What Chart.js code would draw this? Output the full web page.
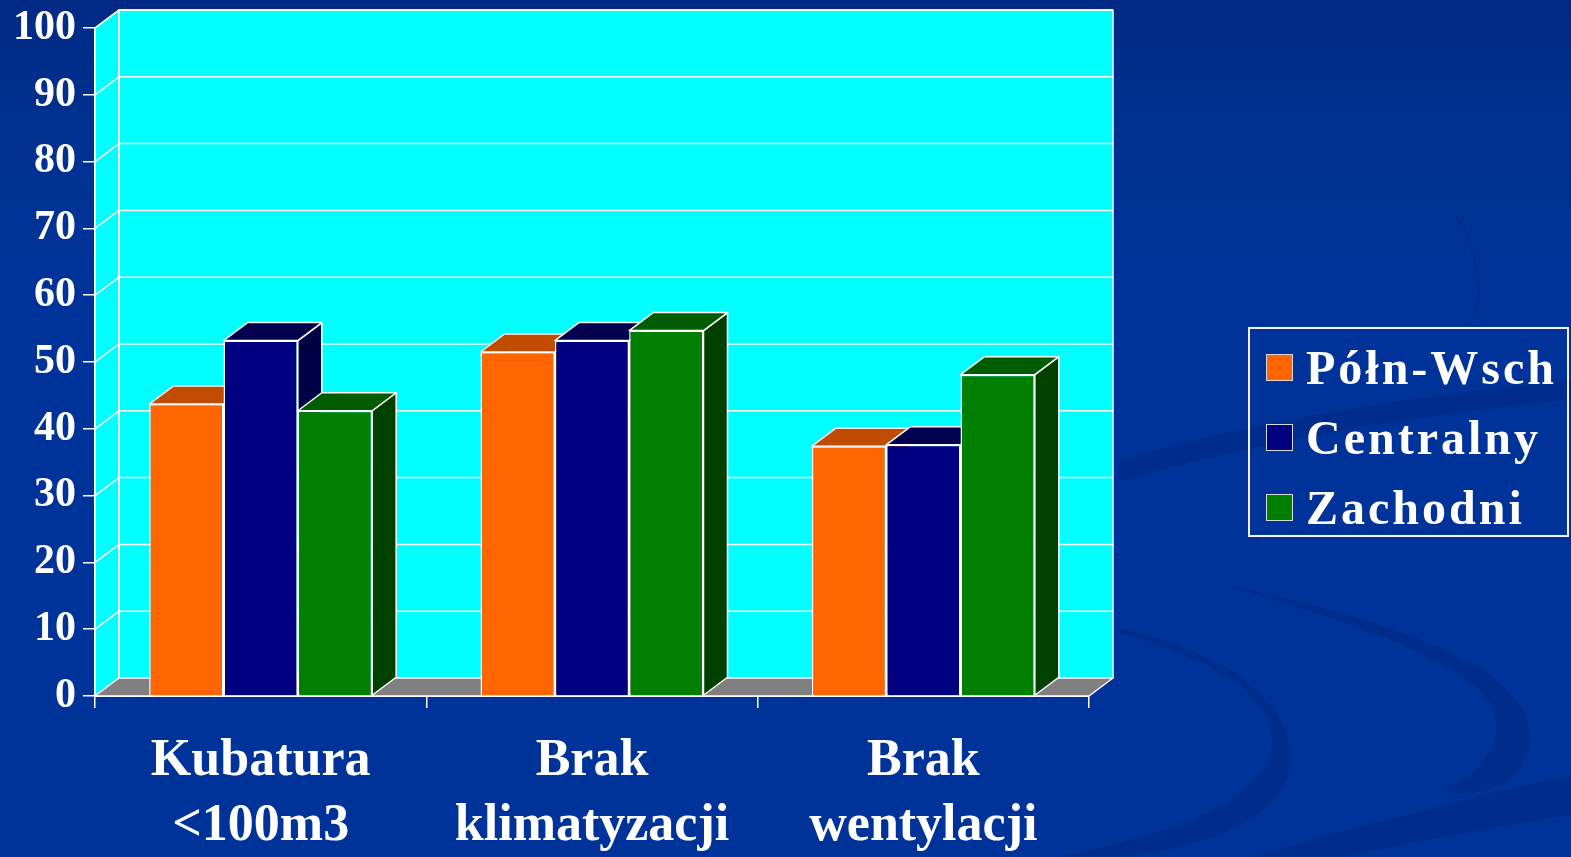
<!DOCTYPE html>
<html lang="pl">
<head>
<meta charset="utf-8">
<title>Warunki pomieszczeń – regiony</title>
<script src="https://cdn.jsdelivr.net/npm/chart.js"></script>
<style>
  html, body { margin: 0; padding: 0; }
  body {
    width: 1571px; height: 857px; overflow: hidden; position: relative;
    background: linear-gradient(to bottom, #002a84 0px, #00318f 120px, #003399 260px, #003399 100%);
    font-family: "Liberation Serif", "Times New Roman", serif;
  }
  #wrap { position: absolute; left: 0; top: 0; width: 1571px; height: 857px; }
  #legenda {
    position: absolute; left: 1248px; top: 327px; width: 321px; height: 210px;
    border: 2px solid #f2f2f2; box-sizing: border-box;
    padding: 3px 0 0 16px;
  }
  .poz { display: flex; align-items: center; height: 70px; color: #fff;
         font-weight: bold; font-size: 48px; letter-spacing: 3px; white-space: nowrap; }
  .kw { width: 25px; height: 25px; border: 1.5px solid #d8d8d8; margin-right: 13px; flex: none; }
</style>
</head>
<body>
<div id="wrap"><canvas id="wykres" width="1571" height="857"></canvas></div>
<div id="legenda"></div>
<script>
// dane
const kategorie = [['Kubatura', '<100m3'], ['Brak', 'klimatyzacji'], ['Brak', 'wentylacji']];
const serie = ['Półn-Wsch', 'Centralny', 'Zachodni'];
const polnWsch = [43.7, 51.5, 37.4];
const centralny = [53.2, 53.2, 37.6];
const zachodni = [42.7, 54.7, 48.1];
const osY = { min: 0, max: 100, krok: 10 };

// kolory: przód, góra, bok
const kolory = [
  ['#ff6600', '#bf4c00', '#993d00'],
  ['#000080', '#00004f', '#000045'],
  ['#008000', '#005c00', '#004000']
];
const DX = 24, DY = 18;   // przesunięcie głębi

function wielokat(ctx, pkt, fill) {
  ctx.beginPath();
  ctx.moveTo(pkt[0][0], pkt[0][1]);
  for (let i = 1; i < pkt.length; i++) ctx.lineTo(pkt[i][0], pkt[i][1]);
  ctx.closePath();
  ctx.fillStyle = fill;
  ctx.fill();
  ctx.stroke();
}

// tło ze smugami
const tlo = {
  id: 'tlo',
  beforeDraw(chart) {
    const ctx = chart.ctx;
    ctx.save();
    ctx.fillStyle = 'rgba(0, 32, 120, 0.35)';
    ctx.beginPath();
    ctx.moveTo(1117, 628);
    ctx.bezierCurveTo(1220, 650, 1300, 700, 1290, 770);
    ctx.bezierCurveTo(1280, 820, 1200, 850, 1120, 857);
    ctx.lineTo(1060, 857);
    ctx.bezierCurveTo(1180, 830, 1270, 800, 1272, 740);
    ctx.bezierCurveTo(1272, 690, 1200, 655, 1117, 632);
    ctx.fill();

    ctx.beginPath();
    ctx.moveTo(1220, 582);
    ctx.bezierCurveTo(1380, 620, 1530, 660, 1530, 740);
    ctx.bezierCurveTo(1525, 790, 1470, 800, 1440, 790);
    ctx.bezierCurveTo(1500, 770, 1510, 720, 1480, 690);
    ctx.bezierCurveTo(1420, 640, 1330, 620, 1220, 582);
    ctx.fill();

    ctx.beginPath();
    ctx.moveTo(1250, 857);
    ctx.bezierCurveTo(1380, 820, 1480, 795, 1571, 775);
    ctx.lineTo(1571, 815);
    ctx.bezierCurveTo(1480, 830, 1400, 845, 1340, 857);
    ctx.fill();

    ctx.beginPath();
    ctx.moveTo(1118, 462);
    ctx.bezierCurveTo(1250, 420, 1420, 395, 1571, 380);
    ctx.lineTo(1571, 400);
    ctx.bezierCurveTo(1420, 415, 1260, 440, 1118, 482);
    ctx.fill();

    ctx.strokeStyle = 'rgba(0, 32, 120, 0.3)';
    ctx.lineWidth = 3;
    ctx.beginPath();
    ctx.moveTo(1455, 215);
    ctx.bezierCurveTo(1480, 250, 1485, 300, 1470, 325);
    ctx.stroke();
    ctx.restore();
  }
};

// ściany, podłoga i bryły słupków
const przestrzen = {
  id: 'przestrzen',
  beforeDatasetsDraw(chart) {
    const ctx = chart.ctx;
    const { left, right, top, bottom } = chart.chartArea;
    const y = chart.scales.y;
    ctx.save();
    ctx.strokeStyle = '#ffffff';
    ctx.lineWidth = 1.5;
    ctx.lineJoin = 'round';

    // tylna ściana i lewa ściana
    ctx.fillStyle = '#00ffff';
    ctx.fillRect(left + DX, top - DY, right - left, bottom - top);
    wielokat(ctx, [[left, top], [left + DX, top - DY], [left + DX, bottom - DY], [left, bottom]], '#00ffff');
    ctx.strokeRect(left + DX, top - DY, right - left, bottom - top);

    // linie siatki
    y.ticks.forEach(t => {
      const py = y.getPixelForValue(t.value);
      ctx.beginPath();
      ctx.moveTo(left, py);
      ctx.lineTo(left + DX, py - DY);
      ctx.lineTo(right + DX, py - DY);
      ctx.stroke();
    });

    // podłoga
    wielokat(ctx, [[left, bottom], [right, bottom], [right + DX, bottom - DY], [left + DX, bottom - DY]], '#808080');

    // boki i wierzchy słupków, od lewej do prawej
    const slupki = [];
    chart.data.datasets.forEach((ds, i) => {
      chart.getDatasetMeta(i).data.forEach(el => {
        const p = el.getProps(['x', 'y', 'base', 'width'], true);
        slupki.push({ p, k: kolory[i] });
      });
    });
    slupki.sort((a, b) => a.p.x - b.p.x);
    slupki.forEach(({ p, k }) => {
      const l = p.x - p.width / 2, r = p.x + p.width / 2;
      wielokat(ctx, [[r, p.y], [r + DX, p.y - DY], [r + DX, p.base - DY], [r, p.base]], k[2]);
      wielokat(ctx, [[l, p.y], [r, p.y], [r + DX, p.y - DY], [l + DX, p.y - DY]], k[1]);
    });
    ctx.restore();
  }
};

const wartosci = [polnWsch, centralny, zachodni];
const czcionka = { family: '"Liberation Serif", "Times New Roman", serif', weight: 'bold' };

const wykres = new Chart(document.getElementById('wykres'), {
  type: 'bar',
  data: {
    labels: kategorie,
    datasets: serie.map((nazwa, i) => ({
      label: nazwa,
      data: wartosci[i],
      backgroundColor: kolory[i][0],
      borderColor: '#ffffff',
      borderWidth: 1.5,
      barPercentage: 1.0,
      categoryPercentage: 0.673
    }))
  },
  options: {
    responsive: false,
    animation: false,
    layout: { padding: { top: 28, right: 482, left: 0, bottom: 0 } },
    plugins: { legend: { display: false }, tooltip: { enabled: false } },
    scales: {
      x: {
        afterFit(s) { s.height = 161; },
        grid: { drawOnChartArea: false, offset: true, color: '#ffffff', lineWidth: 1.5, tickLength: 12 },
        border: { color: '#ffffff', width: 2 },
        ticks: { color: '#ffffff', padding: 21, maxRotation: 0, font: { ...czcionka, size: 52, lineHeight: 1.25 } }
      },
      y: {
        min: osY.min, max: osY.max,
        afterFit(s) { s.width = 95; },
        grid: { drawOnChartArea: false, color: '#ffffff', lineWidth: 1.5, tickLength: 12 },
        border: { color: '#ffffff', width: 2 },
        ticks: { stepSize: osY.krok, color: '#ffffff', padding: 7, font: { ...czcionka, size: 42, lineHeight: 0.9 } }
      }
    }
  },
  plugins: [tlo, przestrzen]
});

// legenda
const leg = document.getElementById('legenda');
wykres.data.datasets.forEach(ds => {
  const wiersz = document.createElement('div');
  wiersz.className = 'poz';
  const kw = document.createElement('span');
  kw.className = 'kw';
  kw.style.background = ds.backgroundColor;
  wiersz.appendChild(kw);
  wiersz.appendChild(document.createTextNode(ds.label));
  leg.appendChild(wiersz);
});
</script>
</body>
</html>
